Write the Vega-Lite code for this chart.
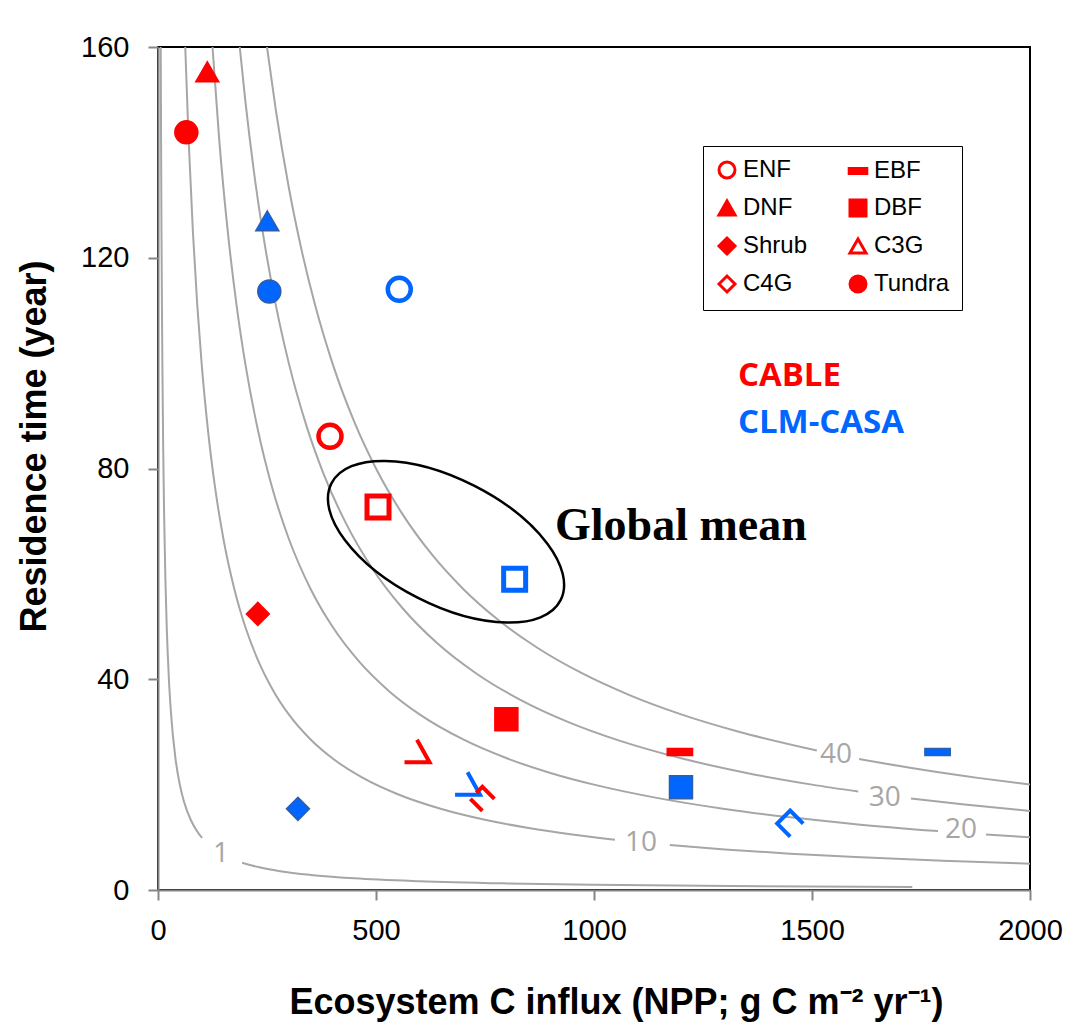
{
  "$schema": "https://vega.github.io/schema/vega-lite/v6.json",
  "width": 872,
  "height": 843,
  "autosize": {"type": "none"},
  "padding": {"left": 158, "top": 47, "right": 56, "bottom": 141},
  "background": "white",
  "config": {
    "view": {"stroke": "black", "strokeWidth": 2},
    "font": "Liberation Sans",
    "axis": {
      "grid": false,
      "domainColor": "#868686",
      "domainWidth": 2,
      "tickColor": "#868686",
      "tickWidth": 2,
      "tickSize": 10,
      "labelFont": "Liberation Sans",
      "labelFontSize": 29,
      "labelColor": "black",
      "labelFlush": false,
      "titleFont": "Liberation Sans",
      "titleFontSize": 36,
      "titleFontWeight": "bold",
      "titleColor": "black"
    }
  },
  "datasets": {
    "contours": [
      {"c": 1, "seg": "1a", "npp": 6.25, "tau": 160},
      {"c": 1, "seg": "1a", "npp": 7, "tau": 142.86},
      {"c": 1, "seg": "1a", "npp": 8, "tau": 125},
      {"c": 1, "seg": "1a", "npp": 9, "tau": 111.11},
      {"c": 1, "seg": "1a", "npp": 10, "tau": 100},
      {"c": 1, "seg": "1a", "npp": 12, "tau": 83.33},
      {"c": 1, "seg": "1a", "npp": 14, "tau": 71.43},
      {"c": 1, "seg": "1a", "npp": 17, "tau": 58.82},
      {"c": 1, "seg": "1a", "npp": 20, "tau": 50},
      {"c": 1, "seg": "1a", "npp": 25, "tau": 40},
      {"c": 1, "seg": "1a", "npp": 30, "tau": 33.33},
      {"c": 1, "seg": "1a", "npp": 40, "tau": 25},
      {"c": 1, "seg": "1a", "npp": 50, "tau": 20},
      {"c": 1, "seg": "1a", "npp": 60, "tau": 16.67},
      {"c": 1, "seg": "1a", "npp": 75, "tau": 13.33},
      {"c": 1, "seg": "1a", "npp": 90, "tau": 11.11},
      {"c": 1, "seg": "1a", "npp": 101, "tau": 9.9},
      {"c": 1, "seg": "1b", "npp": 193, "tau": 5.18},
      {"c": 1, "seg": "1b", "npp": 230, "tau": 4.35},
      {"c": 1, "seg": "1b", "npp": 280, "tau": 3.57},
      {"c": 1, "seg": "1b", "npp": 350, "tau": 2.86},
      {"c": 1, "seg": "1b", "npp": 450, "tau": 2.22},
      {"c": 1, "seg": "1b", "npp": 600, "tau": 1.67},
      {"c": 1, "seg": "1b", "npp": 800, "tau": 1.25},
      {"c": 1, "seg": "1b", "npp": 1000, "tau": 1},
      {"c": 1, "seg": "1b", "npp": 1250, "tau": 0.8},
      {"c": 1, "seg": "1b", "npp": 1500, "tau": 0.67},
      {"c": 1, "seg": "1b", "npp": 1730, "tau": 0.58},
      {"c": 10, "seg": "10a", "npp": 62.5, "tau": 160},
      {"c": 10, "seg": "10a", "npp": 70, "tau": 142.86},
      {"c": 10, "seg": "10a", "npp": 80, "tau": 125},
      {"c": 10, "seg": "10a", "npp": 90, "tau": 111.11},
      {"c": 10, "seg": "10a", "npp": 100, "tau": 100},
      {"c": 10, "seg": "10a", "npp": 115, "tau": 86.96},
      {"c": 10, "seg": "10a", "npp": 130, "tau": 76.92},
      {"c": 10, "seg": "10a", "npp": 150, "tau": 66.67},
      {"c": 10, "seg": "10a", "npp": 175, "tau": 57.14},
      {"c": 10, "seg": "10a", "npp": 200, "tau": 50},
      {"c": 10, "seg": "10a", "npp": 230, "tau": 43.48},
      {"c": 10, "seg": "10a", "npp": 265, "tau": 37.74},
      {"c": 10, "seg": "10a", "npp": 300, "tau": 33.33},
      {"c": 10, "seg": "10a", "npp": 350, "tau": 28.57},
      {"c": 10, "seg": "10a", "npp": 400, "tau": 25},
      {"c": 10, "seg": "10a", "npp": 470, "tau": 21.28},
      {"c": 10, "seg": "10a", "npp": 550, "tau": 18.18},
      {"c": 10, "seg": "10a", "npp": 650, "tau": 15.38},
      {"c": 10, "seg": "10a", "npp": 750, "tau": 13.33},
      {"c": 10, "seg": "10a", "npp": 850, "tau": 11.76},
      {"c": 10, "seg": "10a", "npp": 950, "tau": 10.53},
      {"c": 10, "seg": "10a", "npp": 1048, "tau": 9.54},
      {"c": 10, "seg": "10b", "npp": 1174, "tau": 8.52},
      {"c": 10, "seg": "10b", "npp": 1300, "tau": 7.69},
      {"c": 10, "seg": "10b", "npp": 1450, "tau": 6.9},
      {"c": 10, "seg": "10b", "npp": 1600, "tau": 6.25},
      {"c": 10, "seg": "10b", "npp": 1800, "tau": 5.56},
      {"c": 10, "seg": "10b", "npp": 2000, "tau": 5},
      {"c": 20, "seg": "20a", "npp": 125, "tau": 160},
      {"c": 20, "seg": "20a", "npp": 140, "tau": 142.86},
      {"c": 20, "seg": "20a", "npp": 160, "tau": 125},
      {"c": 20, "seg": "20a", "npp": 180, "tau": 111.11},
      {"c": 20, "seg": "20a", "npp": 200, "tau": 100},
      {"c": 20, "seg": "20a", "npp": 230, "tau": 86.96},
      {"c": 20, "seg": "20a", "npp": 260, "tau": 76.92},
      {"c": 20, "seg": "20a", "npp": 300, "tau": 66.67},
      {"c": 20, "seg": "20a", "npp": 350, "tau": 57.14},
      {"c": 20, "seg": "20a", "npp": 400, "tau": 50},
      {"c": 20, "seg": "20a", "npp": 460, "tau": 43.48},
      {"c": 20, "seg": "20a", "npp": 530, "tau": 37.74},
      {"c": 20, "seg": "20a", "npp": 600, "tau": 33.33},
      {"c": 20, "seg": "20a", "npp": 700, "tau": 28.57},
      {"c": 20, "seg": "20a", "npp": 800, "tau": 25},
      {"c": 20, "seg": "20a", "npp": 900, "tau": 22.22},
      {"c": 20, "seg": "20a", "npp": 1000, "tau": 20},
      {"c": 20, "seg": "20a", "npp": 1150, "tau": 17.39},
      {"c": 20, "seg": "20a", "npp": 1300, "tau": 15.38},
      {"c": 20, "seg": "20a", "npp": 1450, "tau": 13.79},
      {"c": 20, "seg": "20a", "npp": 1600, "tau": 12.5},
      {"c": 20, "seg": "20a", "npp": 1789, "tau": 11.18},
      {"c": 20, "seg": "20b", "npp": 1899, "tau": 10.53},
      {"c": 20, "seg": "20b", "npp": 2000, "tau": 10},
      {"c": 30, "seg": "30a", "npp": 187.5, "tau": 160},
      {"c": 30, "seg": "30a", "npp": 200, "tau": 150},
      {"c": 30, "seg": "30a", "npp": 220, "tau": 136.36},
      {"c": 30, "seg": "30a", "npp": 240, "tau": 125},
      {"c": 30, "seg": "30a", "npp": 270, "tau": 111.11},
      {"c": 30, "seg": "30a", "npp": 300, "tau": 100},
      {"c": 30, "seg": "30a", "npp": 340, "tau": 88.24},
      {"c": 30, "seg": "30a", "npp": 380, "tau": 78.95},
      {"c": 30, "seg": "30a", "npp": 430, "tau": 69.77},
      {"c": 30, "seg": "30a", "npp": 490, "tau": 61.22},
      {"c": 30, "seg": "30a", "npp": 560, "tau": 53.57},
      {"c": 30, "seg": "30a", "npp": 640, "tau": 46.88},
      {"c": 30, "seg": "30a", "npp": 730, "tau": 41.1},
      {"c": 30, "seg": "30a", "npp": 830, "tau": 36.14},
      {"c": 30, "seg": "30a", "npp": 940, "tau": 31.91},
      {"c": 30, "seg": "30a", "npp": 1060, "tau": 28.3},
      {"c": 30, "seg": "30a", "npp": 1200, "tau": 25},
      {"c": 30, "seg": "30a", "npp": 1350, "tau": 22.22},
      {"c": 30, "seg": "30a", "npp": 1500, "tau": 20},
      {"c": 30, "seg": "30a", "npp": 1606, "tau": 18.68},
      {"c": 30, "seg": "30b", "npp": 1727, "tau": 17.37},
      {"c": 30, "seg": "30b", "npp": 1850, "tau": 16.22},
      {"c": 30, "seg": "30b", "npp": 2000, "tau": 15},
      {"c": 40, "seg": "40a", "npp": 250, "tau": 160},
      {"c": 40, "seg": "40a", "npp": 270, "tau": 148.15},
      {"c": 40, "seg": "40a", "npp": 300, "tau": 133.33},
      {"c": 40, "seg": "40a", "npp": 330, "tau": 121.21},
      {"c": 40, "seg": "40a", "npp": 360, "tau": 111.11},
      {"c": 40, "seg": "40a", "npp": 400, "tau": 100},
      {"c": 40, "seg": "40a", "npp": 450, "tau": 88.89},
      {"c": 40, "seg": "40a", "npp": 500, "tau": 80},
      {"c": 40, "seg": "40a", "npp": 560, "tau": 71.43},
      {"c": 40, "seg": "40a", "npp": 630, "tau": 63.49},
      {"c": 40, "seg": "40a", "npp": 700, "tau": 57.14},
      {"c": 40, "seg": "40a", "npp": 780, "tau": 51.28},
      {"c": 40, "seg": "40a", "npp": 870, "tau": 45.98},
      {"c": 40, "seg": "40a", "npp": 970, "tau": 41.24},
      {"c": 40, "seg": "40a", "npp": 1080, "tau": 37.04},
      {"c": 40, "seg": "40a", "npp": 1200, "tau": 33.33},
      {"c": 40, "seg": "40a", "npp": 1330, "tau": 30.08},
      {"c": 40, "seg": "40a", "npp": 1511, "tau": 26.47},
      {"c": 40, "seg": "40b", "npp": 1608, "tau": 24.88},
      {"c": 40, "seg": "40b", "npp": 1750, "tau": 22.86},
      {"c": 40, "seg": "40b", "npp": 1880, "tau": 21.28},
      {"c": 40, "seg": "40b", "npp": 2000, "tau": 20}
    ],
    "contourLabels": [
      {"label": "1", "npp": 144.5, "tau": 6.8},
      {"label": "10", "npp": 1108, "tau": 8.9},
      {"label": "20", "npp": 1842, "tau": 11.4},
      {"label": "30", "npp": 1667, "tau": 17.5},
      {"label": "40", "npp": 1555, "tau": 25.7}
    ],
    "markers": [
      {"model": "CABLE", "type": "ENF", "npp": 394.5, "tau": 86.1},
      {"model": "CABLE", "type": "EBF", "npp": 1197, "tau": 26.2},
      {"model": "CABLE", "type": "DNF", "npp": 113, "tau": 155.3},
      {"model": "CABLE", "type": "DBF", "npp": 799, "tau": 32.4},
      {"model": "CABLE", "type": "Shrub", "npp": 229, "tau": 52.4},
      {"model": "CABLE", "type": "C3G", "npp": 594, "tau": 26.4},
      {"model": "CABLE", "type": "C4G", "npp": 744, "tau": 17.3},
      {"model": "CABLE", "type": "Tundra", "npp": 65, "tau": 143.8},
      {"model": "CABLE", "type": "Global mean", "npp": 504.6, "tau": 72.7},
      {"model": "CLM-CASA", "type": "ENF", "npp": 553.4, "tau": 114.0},
      {"model": "CLM-CASA", "type": "EBF", "npp": 1788, "tau": 26.2},
      {"model": "CLM-CASA", "type": "DNF", "npp": 250.7, "tau": 127.0},
      {"model": "CLM-CASA", "type": "DBF", "npp": 1199.5, "tau": 19.5},
      {"model": "CLM-CASA", "type": "Shrub", "npp": 321, "tau": 15.4},
      {"model": "CLM-CASA", "type": "C3G", "npp": 710, "tau": 20.2},
      {"model": "CLM-CASA", "type": "C4G", "npp": 1450, "tau": 12.6},
      {"model": "CLM-CASA", "type": "Tundra", "npp": 255.3, "tau": 113.6},
      {"model": "CLM-CASA", "type": "Global mean", "npp": 818, "tau": 59.0}
    ]
  },
  "encoding": {
    "x": {
      "field": "npp",
      "type": "quantitative",
      "scale": {"domain": [0, 2000], "nice": false, "zero": false},
      "axis": {
        "values": [0, 500, 1000, 1500, 2000],
        "format": "d",
        "labelPadding": 16,
        "title": "Ecosystem C influx (NPP; g C m⁻² yr⁻¹)",
        "titleX": 458,
        "titleY": 123,
        "titleAlign": "center",
        "titleBaseline": "alphabetic"
      }
    },
    "y": {
      "field": "tau",
      "type": "quantitative",
      "scale": {"domain": [0, 160], "nice": false, "zero": false},
      "axis": {
        "values": [0, 40, 80, 120, 160],
        "format": "d",
        "labelPadding": 19,
        "title": "Residence time (year)",
        "titleX": -113,
        "titleY": 399,
        "titleAngle": -90,
        "titleAlign": "center",
        "titleBaseline": "alphabetic"
      }
    }
  },
  "layer": [
    {
      "data": {"name": "markers"},
      "transform": [{"filter": "datum.model === 'legend only'"}],
      "mark": {"type": "point", "filled": true, "size": 256, "stroke": "#FF0000", "strokeWidth": 3, "opacity": 1},
      "encoding": {
        "shape": {
          "field": "type",
          "type": "nominal",
          "scale": {
            "domain": ["ENF", "DNF", "Shrub", "C4G", "EBF", "DBF", "C3G", "Tundra"],
            "range": ["circle", "triangle-up", "diamond", "diamond", "M-1.1,-0.3 L1.1,-0.3 L1.1,0.3 L-1.1,0.3 Z", "square", "triangle-up", "circle"]
          },
          "legend": {
            "title": null,
            "orient": "none",
            "legendX": 545,
            "legendY": 99,
            "columns": 2,
            "padding": 12,
            "rowPadding": 10,
            "columnPadding": 35,
            "labelFont": "Liberation Sans",
            "labelFontSize": 24,
            "labelColor": "black",
            "labelOffset": 4,
            "labelLimit": 300,
            "strokeColor": "black",
            "fillColor": "white",
            "symbolSize": 256,
            "symbolStrokeWidth": 3
          }
        },
        "fill": {
          "field": "type",
          "type": "nominal",
          "scale": {
            "domain": ["ENF", "DNF", "Shrub", "C4G", "EBF", "DBF", "C3G", "Tundra"],
            "range": ["white", "#FF0000", "#FF0000", "white", "#FF0000", "#FF0000", "white", "#FF0000"]
          },
          "legend": {
            "title": null,
            "orient": "none",
            "legendX": 545,
            "legendY": 99,
            "columns": 2,
            "padding": 12,
            "rowPadding": 10,
            "columnPadding": 35,
            "labelFont": "Liberation Sans",
            "labelFontSize": 24,
            "labelColor": "black",
            "labelOffset": 4,
            "labelLimit": 300,
            "strokeColor": "black",
            "fillColor": "white",
            "symbolSize": 256,
            "symbolStrokeWidth": 3
          }
        }
      }
    },
    {
      "data": {"name": "contours"},
      "mark": {"type": "line", "color": "#A6A6A6", "strokeWidth": 2, "interpolate": "monotone", "clip": true},
      "encoding": {"detail": {"field": "seg", "type": "nominal"}}
    },
    {
      "data": {"name": "contourLabels"},
      "mark": {"type": "text", "font": "Open Sans", "fontSize": 28, "color": "#A6A6A6", "align": "center", "baseline": "middle"},
      "encoding": {"text": {"field": "label", "type": "nominal"}}
    },
    {
      "data": {"values": [{"label": "Global mean", "npp": 660.6, "tau": 66.1}]},
      "mark": {
        "type": "point",
        "shape": "M1,0 C1,0.2695 0.5523,0.488 0,0.488 C-0.5523,0.488 -1,0.2695 -1,0 C-1,-0.2695 -0.5523,-0.488 0,-0.488 C0.5523,-0.488 1,-0.2695 1,0 Z",
        "size": 66152,
        "angle": 27,
        "filled": false,
        "stroke": "black",
        "strokeWidth": 2.5,
        "opacity": 1
      }
    },
    {
      "data": {"values": [{"label": "Global mean", "npp": 910.6, "tau": 66.5}]},
      "mark": {"type": "text", "font": "Liberation Serif", "fontWeight": "bold", "fontSize": 46, "color": "black", "align": "left", "baseline": "alphabetic"},
      "encoding": {"text": {"field": "label", "type": "nominal"}}
    },
    {
      "data": {"values": [
        {"label": "CABLE", "model": "CABLE", "npp": 1330, "tau": 95.6},
        {"label": "CLM-CASA", "model": "CLM-CASA", "npp": 1330, "tau": 86.8}
      ]},
      "mark": {"type": "text", "font": "Open Sans", "fontWeight": "bold", "fontSize": 33, "align": "left", "baseline": "alphabetic"},
      "encoding": {
        "text": {"field": "label", "type": "nominal"},
        "fill": {"condition": {"test": "datum.model === 'CABLE'", "value": "#FF0000"}, "value": "#0066FF"}
      }
    },
    {
      "data": {"name": "markers"},
      "transform": [{"filter": "datum.type === 'Global mean'"}],
      "mark": {"type": "point", "shape": "square", "filled": false, "size": 484, "strokeWidth": 5, "opacity": 1, "strokeJoin": "miter"},
      "encoding": {
        "stroke": {"condition": {"test": "datum.model === 'CABLE'", "value": "#FF0000"}, "value": "#0066FF"}
      }
    },
    {
      "data": {"name": "markers"},
      "transform": [{"filter": "datum.type === 'C3G'"}],
      "mark": {"type": "point", "shape": "M0,-0.9 L1,0.9 L-1,0.9", "filled": false, "size": 625, "strokeWidth": 4, "opacity": 1, "strokeCap": "butt", "strokeJoin": "miter"},
      "encoding": {
        "stroke": {"condition": {"test": "datum.model === 'CABLE'", "value": "#FF0000"}, "value": "#0066FF"}
      }
    },
    {
      "data": {"name": "markers"},
      "transform": [{"filter": "datum.type === 'C4G' && datum.model === 'CLM-CASA'"}],
      "mark": {"type": "point", "shape": "M0,1 L-1,0 L0,-1 L1,0", "filled": false, "size": 676, "strokeWidth": 4, "opacity": 1, "stroke": "#0066FF", "strokeCap": "butt", "strokeJoin": "miter"}
    },
    {
      "data": {"name": "markers"},
      "transform": [{"filter": "datum.type === 'C4G' && datum.model === 'CABLE'"}],
      "mark": {"type": "point", "shape": "M-1,0 L0,1 M-0.5,-0.5 L0,-1 L1,0", "filled": false, "size": 576, "strokeWidth": 4, "opacity": 1, "stroke": "#FF0000", "strokeCap": "butt", "strokeJoin": "miter"}
    },
    {
      "data": {"name": "markers"},
      "transform": [{"filter": "datum.type === 'ENF'"}],
      "mark": {"type": "point", "shape": "circle", "filled": false, "size": 529, "strokeWidth": 4.5, "opacity": 1},
      "encoding": {
        "stroke": {"condition": {"test": "datum.model === 'CABLE'", "value": "#FF0000"}, "value": "#0066FF"}
      }
    },
    {
      "data": {"name": "markers"},
      "transform": [{"filter": "indexof(['EBF','DNF','DBF','Shrub','Tundra'], datum.type) >= 0"}],
      "mark": {"type": "point", "filled": true, "size": 529, "strokeWidth": 1.5, "opacity": 1},
      "encoding": {
        "shape": {
          "field": "type",
          "type": "nominal",
          "scale": {
            "domain": ["ENF", "DNF", "Shrub", "C4G", "EBF", "DBF", "C3G", "Tundra"],
            "range": ["circle", "triangle-up", "diamond", "diamond", "M-1.1,-0.3 L1.1,-0.3 L1.1,0.3 L-1.1,0.3 Z", "square", "triangle-up", "circle"]
          }
        },
        "fill": {"condition": {"test": "datum.model === 'CABLE'", "value": "#FF0000"}, "value": "#0066FF"},
        "stroke": {"condition": {"test": "datum.model === 'CABLE'", "value": "#FF0000"}, "value": "#2F5EA8"}
      }
    }
  ]
}
